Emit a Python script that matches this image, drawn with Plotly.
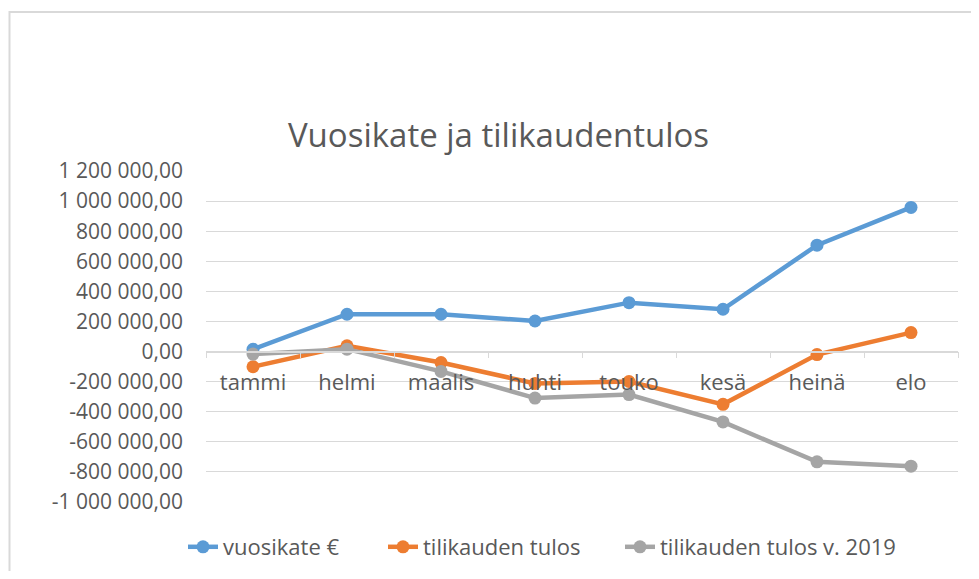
import plotly.graph_objects as go

categories = ["tammi", "helmi", "maalis", "huhti", "touko", "kesä", "heinä", "elo"]
vuosikate = [15000, 248000, 248000, 203000, 325000, 281000, 707000, 958000]
tilikauden_tulos = [-101000, 38000, -73000, -212000, -199000, -351000, -20000, 126000]
tilikauden_tulos_2019 = [-17000, 16000, -132000, -309000, -286000, -468000, -733000, -762000]

series_names = ["vuosikate €", "tilikauden tulos", "tilikauden tulos v. 2019"]
colors = ["#5B9BD5", "#ED7D31", "#A5A5A5"]

y_tick_vals = [1200000, 1000000, 800000, 600000, 400000, 200000, 0,
               -200000, -400000, -600000, -800000, -1000000]
y_tick_text = ["1 200 000,00", "1 000 000,00", "800 000,00", "600 000,00", "400 000,00",
               "200 000,00", "0,00", "-200 000,00", "-400 000,00", "-600 000,00",
               "-800 000,00", "-1 000 000,00"]

FONT = "'Open Sans', Lato, sans-serif"
TXT = "#595959"

# page body offset (8px) compensated in the layout
OFF = 8
W, H = 979 - 2 * OFF, 579 - 2 * OFF
PL, PR, PT, PB = 206, 958, 171, 502  # plot area in screen px

legend_ids = ["legend", "legend2", "legend3"]
legend_x = [(183 - PL) / (PR - PL), (383 - PL) / (PR - PL), (620 - PL) / (PR - PL)]

fig = go.Figure()
for name, vals, c, lg in zip(series_names, [vuosikate, tilikauden_tulos, tilikauden_tulos_2019],
                             colors, legend_ids):
    fig.add_trace(go.Scatter(
        x=categories, y=vals, name=name, mode="lines+markers",
        line=dict(color=c, width=4.5),
        marker=dict(color=c, size=13),
        cliponaxis=False, legend=lg,
    ))

ymin, ymax = -1000000, 1200000
zero_frac = (0 - ymin) / (ymax - ymin)

legend_common = dict(orientation="h", xanchor="left", y=-(547 - PB) / (PB - PT),
                     yanchor="middle", font=dict(family=FONT, size=22, color=TXT),
                     bgcolor="rgba(0,0,0,0)")

fig.update_layout(
    width=W, height=H,
    margin=dict(l=PL - OFF, r=OFF + W - PR, t=PT - OFF, b=OFF + H - PB, autoexpand=False),
    paper_bgcolor="white", plot_bgcolor="white",
    font=dict(family=FONT, color=TXT, size=21),
    title=dict(text="Vuosikate ja tilikaudentulos", x=(498.5 - OFF) / W, xref="container",
               xanchor="center",
               y=1 - (135 - OFF) / H, yref="container", yanchor="middle",
               font=dict(family=FONT, size=33, color=TXT)),
    showlegend=True,
    legend=dict(x=legend_x[0], **legend_common),
    legend2=dict(x=legend_x[1], **legend_common),
    legend3=dict(x=legend_x[2], **legend_common),
    xaxis=dict(type="category", anchor="free", position=zero_frac, showgrid=False, showline=True,
               linecolor="#D9D9D9", linewidth=1.5, ticks="outside", ticklen=6,
               tickcolor="#D9D9D9", tickson="boundaries", ticklabelstandoff=11,
               tickfont=dict(family=FONT, size=22, color=TXT),
               range=[-0.5, 7.5], zeroline=False),
    yaxis=dict(range=[ymin, ymax], tickvals=y_tick_vals, ticktext=y_tick_text,
               showgrid=True, gridcolor="#D9D9D9", gridwidth=1, zeroline=False,
               showline=False, ticks="", ticklabelstandoff=22,
               tickfont=dict(family=FONT, size=21, color=TXT)),
)

# outer chart border (left and top visible)
fig.add_shape(type="rect", xref="paper", yref="paper",
              x0=(9.5 - PL) / (PR - PL), x1=1.3, y0=-0.6, y1=(PB - 12) / (PB - PT),
              line=dict(color="#D9D9D9", width=2), fillcolor="rgba(0,0,0,0)", layer="below")

fig.write_html("out.html")
